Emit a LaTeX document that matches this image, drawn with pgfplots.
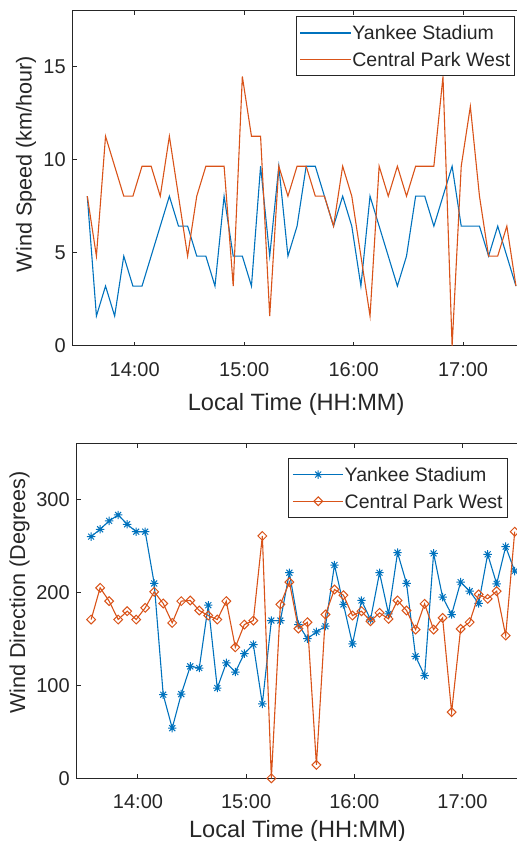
\documentclass[border=0pt]{standalone}
\usepackage{pgfplots}
\usepackage{pgfplotstable}
\pgfplotsset{compat=1.18}
\usepackage{fontspec}
\setmainfont{Liberation Sans}

\definecolor{mblue}{rgb}{0,0.447,0.741}
\definecolor{morange}{rgb}{0.85,0.325,0.098}
\definecolor{axgray}{rgb}{0.15,0.15,0.15}

% matlab-like asterisk and diamond
\pgfdeclareplotmark{mstar}{%
  \pgfpathmoveto{\pgfqpoint{-\pgfplotmarksize}{0pt}}\pgfpathlineto{\pgfqpoint{\pgfplotmarksize}{0pt}}%
  \pgfpathmoveto{\pgfqpoint{0pt}{-\pgfplotmarksize}}\pgfpathlineto{\pgfqpoint{0pt}{\pgfplotmarksize}}%
  \pgfpathmoveto{\pgfqpoint{-.707\pgfplotmarksize}{-.707\pgfplotmarksize}}\pgfpathlineto{\pgfqpoint{.707\pgfplotmarksize}{.707\pgfplotmarksize}}%
  \pgfpathmoveto{\pgfqpoint{-.707\pgfplotmarksize}{.707\pgfplotmarksize}}\pgfpathlineto{\pgfqpoint{.707\pgfplotmarksize}{-.707\pgfplotmarksize}}%
  \pgfusepathqstroke}
\pgfdeclareplotmark{mdiamond}{%
  \pgfpathmoveto{\pgfqpoint{0pt}{\pgfplotmarksize}}\pgfpathlineto{\pgfqpoint{\pgfplotmarksize}{0pt}}%
  \pgfpathlineto{\pgfqpoint{0pt}{-\pgfplotmarksize}}\pgfpathlineto{\pgfqpoint{-\pgfplotmarksize}{0pt}}%
  \pgfpathclose\pgfusepathqstroke}

% t = minutes after 14:00; ys/cs = wind speed (km/h); yd/cd = direction (deg)
\pgfplotstableread{
t    ys     cs     yd     cd
-26  8.05   8.05   259.7  170.6
-21  1.61   4.83   267.6  204.7
-16  3.22   11.27  276.6  190.4
-11  1.61   9.66   283.0  170.6
-6   4.83   8.05   273.0  179.6
-1   3.22   8.05   265.0  170.6
4    3.22   9.66   265.0  183.2
9    4.83   9.66   209.4  200.4
14   6.44   8.05   89.8   187.9
19   8.05   11.27  53.9   167.0
24   6.44   8.05   90.5   190.4
29   6.44   4.83   120.3  191.1
34   4.83   8.05   118.5  180.3
39   4.83   9.66   186.0  174.9
44   3.22   9.66   97.0   170.6
49   8.05   9.66   124.0  190.4
54   4.83   3.22   114.2  140.8
59   4.83   14.48  134.0  165.2
64   3.22   11.27  143.7  169.5
69   9.66   11.27  80.0   260.4
74   4.83   1.61   169.5  0
79   9.66   9.66   169.5  186.8
84   4.83   8.05   220.9  210.8
89   6.44   9.66   165.2  160.9
94   9.66   9.66   150.1  167.7
99   9.66   8.05   157.3  14.4
104  8.05   8.05   163.4  176.0
109  6.44   6.44   229.2  202.9
114  8.05   9.66   186.8  196.8
119  6.44   8.05   144.4  174.9
124  3.22   4.83   191.1  179.6
129  8.05   1.61   170.6  168.8
134  6.44   9.66   220.9  177.8
139  4.83   8.05   176.7  171.3
144  3.22   9.66   242.5  191.1
149  4.83   8.05   209.4  180.3
154  8.05   9.66   131.1  159.8
159  8.05   9.66   110.3  187.5
164  6.44   9.66   241.7  159.8
169  8.05   14.48  194.7  172.4
174  9.66   0      176.0  71.1
179  6.44   9.66   210.8  160.6
184  6.44   12.87  201.1  167.7
189  6.44   8.05   187.9  197.6
194  4.83   4.83   240.7  192.9
199  6.44   4.83   209.0  201.1
204  4.83   6.44   248.9  153.4
209  3.22   3.22   222.7  265.0
}\data

\pgfplotsset{
  mlab/.style={
    scale only axis,
    height=167.5pt,
    clip mode=individual,
    xmin=-34, xmax=211,
    xtick={0,60,120,180},
    xticklabels={14:00,15:00,16:00,17:00},
    ytick pos=left,
    tick align=inside,
    major tick length=2.2pt,
    axis line style={axgray, line width=0.5pt},
    tick style={axgray, line width=0.5pt},
    tick label style={font=\fontsize{10}{12}\selectfont, text=axgray},
    xticklabel style={yshift=-4.6pt},
    /pgf/number format/assume math mode=true,
    label style={text=axgray},
    xlabel style={font=\fontsize{11.8}{14}\selectfont, anchor=north, inner sep=0pt},
    ylabel style={font=\fontsize{10.8}{13}\selectfont, anchor=base, inner sep=0pt},
    legend cell align=left,
    legend style={draw=axgray, line width=0.5pt, text=axgray,
      font=\fontsize{9.75}{11}\selectfont,
      inner xsep=1.8pt, inner ysep=3.6pt, row sep=4.4pt,
      nodes={inner xsep=0.5pt, inner ysep=1pt, text height=6.95pt, text depth=0pt}},
    legend image code/.code={%
      \path (0pt,0pt) -- (25.2pt,0pt);
      \draw[mark repeat=2,mark phase=2,#1] plot coordinates {(2.7pt,0pt) (12.7pt,0pt) (22.7pt,0pt)};
    },
  }
}

\begin{document}
\begin{tikzpicture}
\useasboundingbox (0,0) rectangle (258pt,420.5pt);

\begin{axis}[mlab,
  at={(36.35pt,247.5pt)}, anchor=south west,
  width=223.45pt,
  ymin=0, ymax=18, ytick={0,5,10,15},
  xlabel={Local Time (HH:MM)},
  xlabel style={at={(axis description cs:0.5,0)}, yshift=-23.65pt},
  ylabel={Wind Speed (km/hour)},
  ylabel style={at={(axis description cs:-0.0918,0.543)}},
  legend style={at={(0.9904,0.984)}, anchor=north east},
]
\addplot[mblue, line width=0.55pt] table[x=t, y=ys] {\data};
\addplot[morange, line width=0.55pt] table[x=t, y=cs] {\data};
\legend{Yankee Stadium, Central Park West}
\end{axis}

\begin{axis}[mlab,
  at={(38.35pt,31.35pt)}, anchor=south west,
  width=220.8pt,
  ymin=0, ymax=360, ytick={0,100,200,300},
  xlabel={Local Time (HH:MM)},
  xlabel style={at={(axis description cs:0.5,0)}, yshift=-20.8pt},
  ylabel={Wind Direction (Degrees)},
  ylabel style={at={(axis description cs:-0.1167,0.554)}},
  legend style={at={(0.976,0.9564)}, anchor=north east},
]
\addplot[mblue, line width=0.55pt, mark=mstar, mark size=2.1pt, mark options={solid, line width=0.5pt}] table[x=t, y=yd] {\data};
\addplot[morange, line width=0.55pt, mark=mdiamond, mark size=2.2pt, mark options={solid, line width=0.5pt}] table[x=t, y=cd] {\data};
\legend{Yankee Stadium, Central Park West}
\end{axis}
\end{tikzpicture}
\end{document}
